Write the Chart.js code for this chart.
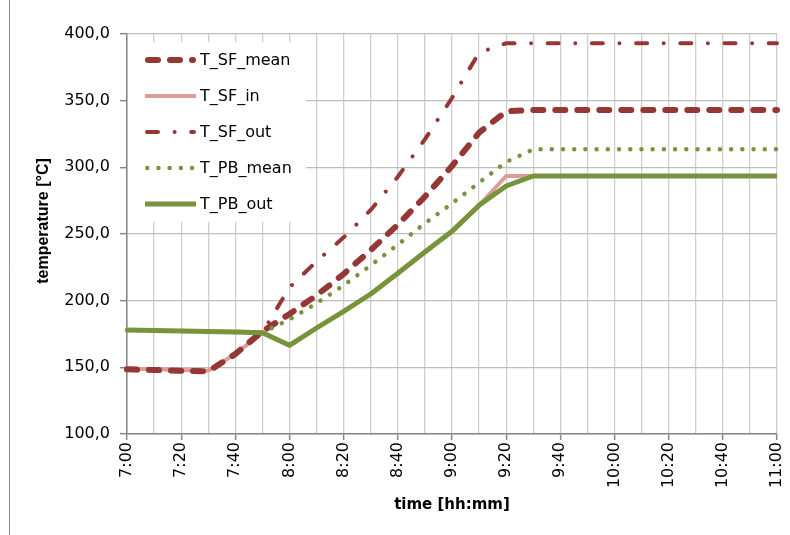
<!DOCTYPE html>
<html>
<head>
<meta charset="utf-8">
<script src="https://cdn.jsdelivr.net/npm/chart.js@4.4.1/dist/chart.umd.min.js"></script>
<style>
  html, body { margin: 0; padding: 0; background: #fff; }
  canvas { display: block; }
</style>
</head>
<body>
<canvas id="chart" width="790" height="535"></canvas>
<script>
/* ---- DATA ---- */
const times = ['7:00', '7:10', '7:20', '7:30', '7:40', '7:50', '8:00', '8:10', '8:20', '8:30',
  '8:40', '8:50', '9:00', '9:10', '9:20', '9:30', '9:40', '9:50', '10:00', '10:10',
  '10:20', '10:30', '10:40', '10:50', '11:00'];

const tSfMean = [148.5, 148, 147.5, 147, 160, 177, 190, 204, 220, 238, 257, 278, 301, 326, 342,
  343, 343, 343, 343, 343, 343, 343, 343, 343, 343];
const tSfIn = [149, 148.5, 148, 147.5, 160, 176, 166.5, 179.5, 192, 205, 220.5, 236.5, 252, 271.5, 293.5,
  293.5, 293.5, 293.5, 293.5, 293.5, 293.5, 293.5, 293.5, 293.5, 293.5];
const tSfOut = [148, 147.5, 147, 146.5, 160, 176, 210, 229.5, 247.5, 268, 293, 321, 352, 386, 393,
  393, 393, 393, 393, 393, 393, 393, 393, 393, 393];
const tPbMean = [178, 177.6, 177.2, 176.9, 176.5, 176, 186, 198, 211.5, 226.5, 242, 258, 273, 288.5, 304,
  313.5, 313.5, 313.5, 313.5, 313.5, 313.5, 313.5, 313.5, 313.5, 313.5];
const tPbOut = [178, 177.6, 177.2, 176.9, 176.5, 176, 166.5, 179.5, 192, 205, 220.5, 236.5, 252, 271.5, 286,
  293.5, 293.5, 293.5, 293.5, 293.5, 293.5, 293.5, 293.5, 293.5, 293.5];

const yTicks = { min: 100, max: 400, step: 50 };
const yTitle = 'temperature [°C]';

const RED = '#953735';
const PINK = '#DC9C9A';
const GREEN = '#77933C';
const AXIS = '#868686';

/* ---- PLUGINS ---- */
// outer chart frame (left edge only is visible) + y axis title
const frame = {
  id: 'frame',
  beforeDraw(chart) {
    const ctx = chart.ctx;
    ctx.save();
    ctx.strokeStyle = '#8c8c8c';
    ctx.lineWidth = 1;
    ctx.beginPath();
    ctx.moveTo(9.5, 0);
    ctx.lineTo(9.5, 535);
    ctx.stroke();
    ctx.restore();
  },
  afterDraw(chart) {
    // y title sits a bit above the middle of the axis, as in the original
    const ctx = chart.ctx;
    ctx.save();
    ctx.translate(44, 221);
    ctx.rotate(-Math.PI / 2);
    ctx.fillStyle = '#000';
    ctx.font = 'bold 16px "Liberation Sans"';
    ctx.textAlign = 'center';
    ctx.textBaseline = 'middle';
    ctx.fillText(yTitle, 0, 0);
    ctx.restore();
  }
};

// legend drawn inside the plot, top-left, on a white box
const innerLegend = {
  id: 'innerLegend',
  beforeDatasetsDraw(chart) {
    const ctx = chart.ctx, a = chart.chartArea;
    ctx.save();
    ctx.fillStyle = '#fff';
    ctx.fillRect(a.left + 1, 42, 178, 180);
    ctx.restore();
  },
  afterDraw(chart) {
    const ctx = chart.ctx;
    chart.data.datasets.forEach((ds, i) => {
      const y = 60 + i * 36;
      const round = ds.borderCapStyle === 'round';
      const inset = round ? ds.borderWidth / 2 : 0;
      ctx.save();
      ctx.strokeStyle = ds.borderColor;
      ctx.lineWidth = ds.borderWidth;
      ctx.lineCap = round ? 'round' : 'butt';
      ctx.setLineDash(ds.borderDash || []);
      ctx.beginPath();
      ctx.moveTo(145 + inset, y);
      ctx.lineTo(196 - inset, y);
      ctx.stroke();
      ctx.restore();

      ctx.save();
      ctx.fillStyle = '#000';
      ctx.font = '16px "DejaVu Sans"';
      ctx.textBaseline = 'middle';
      ctx.fillText(ds.label, 200, y + 1);
      ctx.restore();
    });
  }
};

/* ---- CHART ---- */
new Chart(document.getElementById('chart'), {
  type: 'line',
  data: {
    labels: times,
    datasets: [
      {
        label: 'T_SF_mean', data: tSfMean, borderColor: RED, borderWidth: 6,
        borderDash: [10, 12], borderCapStyle: 'round', order: 4
      },
      {
        label: 'T_SF_in', data: tSfIn, borderColor: PINK, borderWidth: 4,
        borderJoinStyle: 'round', order: 5
      },
      {
        label: 'T_SF_out', data: tSfOut, borderColor: RED, borderWidth: 4,
        borderDash: [11, 16.6, 0.01, 16.6], borderCapStyle: 'round', order: 3
      },
      {
        label: 'T_PB_mean', data: tPbMean, borderColor: GREEN, borderWidth: 4.5,
        borderDash: [0.01, 11.2], borderCapStyle: 'round', order: 2
      },
      {
        label: 'T_PB_out', data: tPbOut, borderColor: GREEN, borderWidth: 5,
        borderJoinStyle: 'round', order: 1
      }
    ]
  },
  options: {
    responsive: false,
    animation: false,
    devicePixelRatio: 1,
    layout: { padding: { top: 34, right: 13, left: 0, bottom: 0 } },
    elements: { point: { radius: 0 }, line: { tension: 0 } },
    plugins: { legend: { display: false }, tooltip: { enabled: false } },
    scales: {
      x: {
        type: 'category',
        offset: false,
        afterFit: s => { s.height = 101; s.paddingRight = 0; s.paddingLeft = 0; },
        grid: {
          color: '#CFCFCF',
          lineWidth: 1.3,
          tickLength: 6,
          tickColor: c => (c.index % 2 === 0 ? AXIS : 'rgba(0,0,0,0)'),
          tickWidth: 1.5
        },
        border: { color: AXIS, width: 1.5 },
        ticks: {
          autoSkip: false,
          minRotation: 90,
          maxRotation: 90,
          padding: 2,
          color: '#000',
          font: { family: 'DejaVu Sans', size: 16 },
          callback: (v, i) => (i % 2 === 0 ? times[i] : '')
        },
        title: {
          display: true,
          text: 'time [hh:mm]',
          color: '#000',
          font: { family: 'DejaVu Sans', size: 15, weight: 'bold' },
          padding: { top: 0, bottom: 21 }
        }
      },
      y: {
        min: yTicks.min,
        max: yTicks.max,
        afterFit: s => { s.width = 127; },
        grid: { color: '#BDBDBD', lineWidth: 1.3, tickLength: 7, tickColor: AXIS, tickWidth: 1.5 },
        border: { color: AXIS, width: 1.5 },
        ticks: {
          stepSize: yTicks.step,
          padding: 10,
          color: '#000',
          font: { family: 'DejaVu Sans', size: 16 },
          callback: v => v.toFixed(1).replace('.', ',')
        },
        title: { display: false }
      }
    }
  },
  plugins: [frame, innerLegend]
});
</script>
</body>
</html>
